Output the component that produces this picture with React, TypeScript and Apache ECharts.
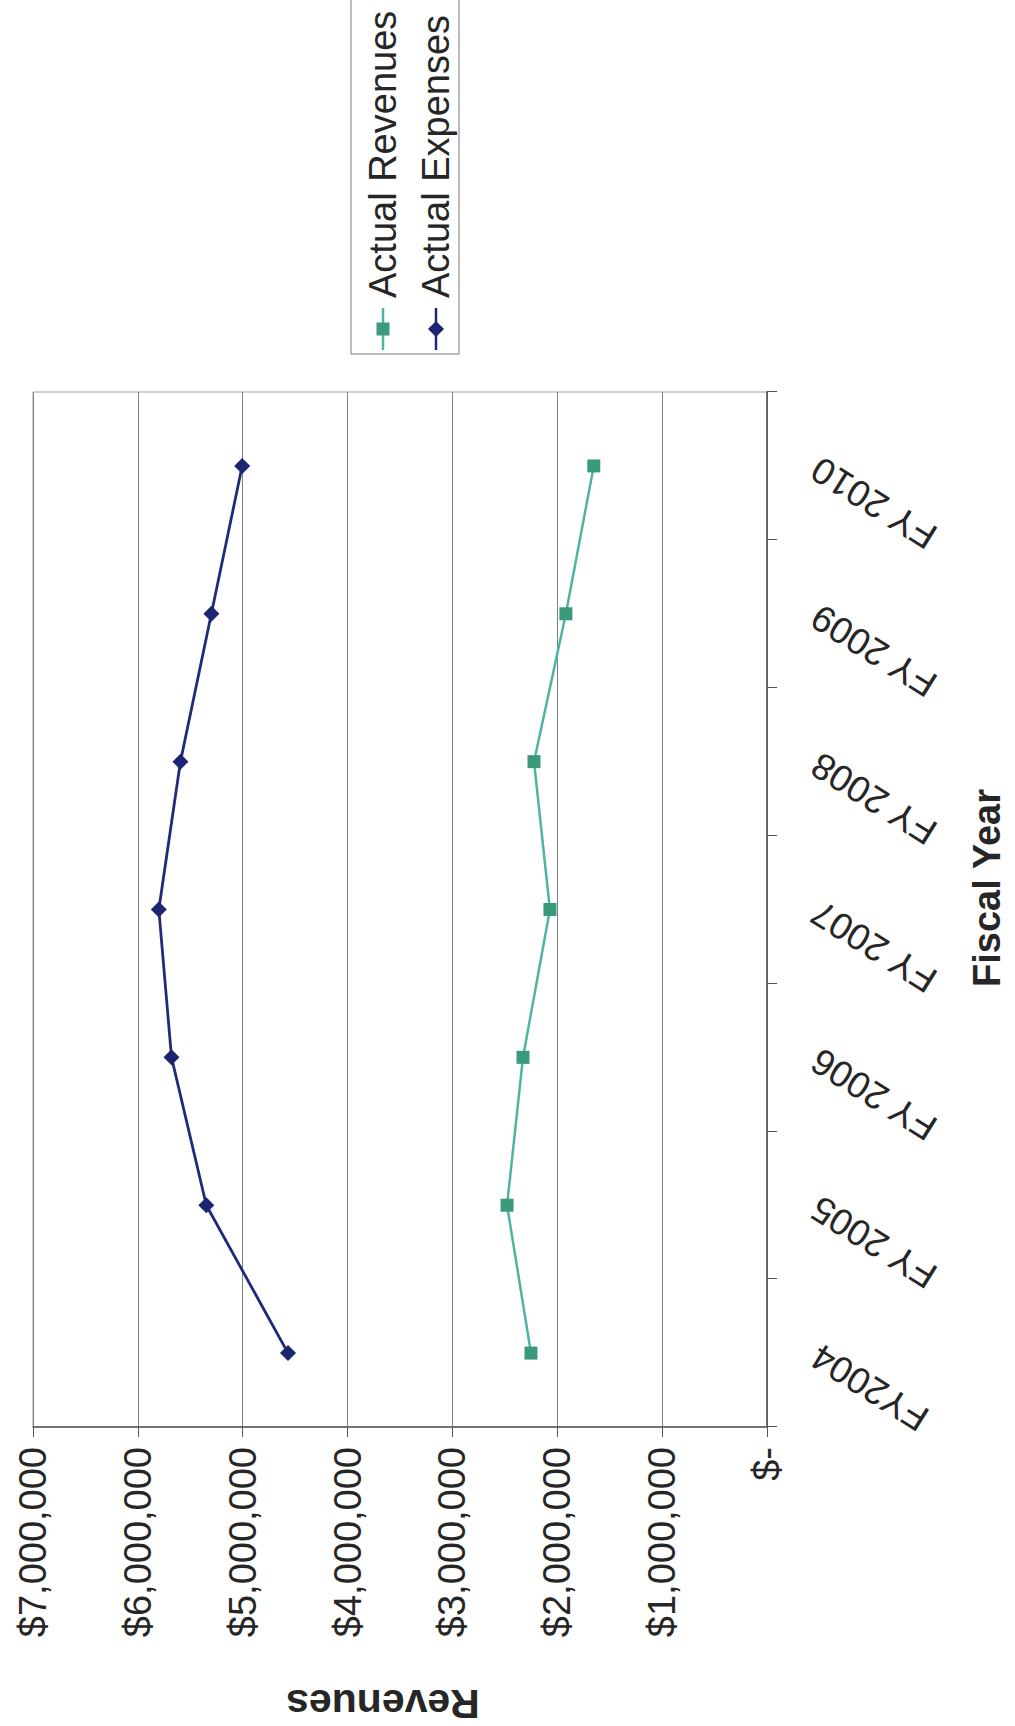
import React, { useEffect, useRef } from "react";
import * as echarts from "echarts";

// Fiscal-year revenue vs. expense trend (chart laid out landscape, shown turned a quarter-turn)
const categories = ["FY2004", "FY 2005", "FY 2006", "FY 2007", "FY 2008", "FY 2009", "FY 2010"];
const actualRevenues = [2251000, 2479000, 2327000, 2070000, 2222000, 1918000, 1652000];
const actualExpenses = [4568000, 5347000, 5679000, 5800000, 5594000, 5299000, 5005000];
const valueTicks = [0, 1000000, 2000000, 3000000, 4000000, 5000000, 6000000, 7000000];

const CHART_W = 1726;
const CHART_H = 1015;
const FONT = "'Liberation Sans', Arial, sans-serif";

const TEXT = "#262626";
const REV_LINE = "#4fb3a3";
const REV_MARK = "#3a9a7e";
const EXP_LINE = "#1f2a7a";
const EXP_MARK = "#1b2570";

function money(v: number): string {
  if (v === 0) return "$-";
  return "$" + v.toLocaleString("en-US");
}

export default function App() {
  const ref = useRef<HTMLDivElement>(null);

  useEffect(() => {
    if (!ref.current) return;
    const chart = echarts.init(ref.current, undefined, { renderer: "svg" });

    const legendX = 1372;
    const legendY = 351;
    const rowRev = 383;
    const rowExp = 436;

    chart.setOption({
      animation: false,
      backgroundColor: "#ffffff",
      grid: {
        left: 299,
        right: 392,
        top: 33,
        bottom: 248,
        show: true,
        borderColor: "#a0a0a0",
        borderWidth: 1,
        backgroundColor: "#ffffff",
      },
      xAxis: {
        type: "category",
        data: categories,
        boundaryGap: true,
        axisLine: { show: true, lineStyle: { color: "#555555", width: 1.5 } },
        axisTick: { show: true, length: 10, interval: 0, lineStyle: { color: "#555555" } },
        axisLabel: {
          interval: 0,
          rotate: 58,
          margin: 48,
          fontFamily: FONT,
          fontSize: 37,
          color: TEXT,
        },
        splitLine: { show: false },
      },
      yAxis: {
        type: "value",
        min: valueTicks[0],
        max: valueTicks[valueTicks.length - 1],
        interval: 1000000,
        axisLine: { show: true, lineStyle: { color: "#555555", width: 1.5 } },
        axisTick: { show: true, length: 10, lineStyle: { color: "#555555" } },
        axisLabel: {
          margin: 20,
          fontFamily: FONT,
          fontSize: 38,
          color: TEXT,
          formatter: (v: number) => money(v),
        },
        splitLine: { show: true, lineStyle: { color: "#7e7e7e", width: 1 } },
      },
      series: [
        {
          name: "Actual Revenues",
          type: "line",
          data: actualRevenues,
          symbol: "rect",
          symbolSize: 13,
          lineStyle: { color: REV_LINE, width: 2.5 },
          itemStyle: { color: REV_MARK },
          z: 3,
        },
        {
          name: "Actual Expenses",
          type: "line",
          data: actualExpenses,
          symbol: "diamond",
          symbolSize: 16,
          lineStyle: { color: EXP_LINE, width: 2.8 },
          itemStyle: { color: EXP_MARK },
          z: 3,
        },
      ],
      graphic: [
        // axis titles
        {
          type: "text",
          x: 22,
          y: 383,
          rotation: Math.PI / 2,
          style: {
            text: "Revenues",
            fontFamily: FONT,
            fontWeight: "bold",
            fontSize: 41,
            fill: TEXT,
            align: "center",
            verticalAlign: "middle",
          },
        },
        {
          type: "text",
          x: 838,
          y: 987,
          style: {
            text: "Fiscal Year",
            fontFamily: FONT,
            fontWeight: "bold",
            fontSize: 38,
            fill: TEXT,
            align: "center",
            verticalAlign: "middle",
          },
        },
        // legend box
        {
          type: "rect",
          shape: { x: legendX, y: legendY, width: 400, height: 108 },
          style: { fill: "#ffffff", stroke: "#777777", lineWidth: 1 },
          z: 10,
        },
        {
          type: "line",
          shape: { x1: legendX + 4, y1: rowRev, x2: legendX + 46, y2: rowRev },
          style: { stroke: REV_LINE, lineWidth: 2.5 },
          z: 11,
        },
        {
          type: "rect",
          shape: { x: legendX + 25 - 6.5, y: rowRev - 6.5, width: 13, height: 13 },
          style: { fill: REV_MARK },
          z: 12,
        },
        {
          type: "text",
          x: legendX + 56,
          y: rowRev,
          style: {
            text: "Actual Revenues",
            fontFamily: FONT,
            fontSize: 38,
            fill: TEXT,
            align: "left",
            verticalAlign: "middle",
          },
          z: 12,
        },
        {
          type: "line",
          shape: { x1: legendX + 4, y1: rowExp, x2: legendX + 46, y2: rowExp },
          style: { stroke: EXP_LINE, lineWidth: 2.5 },
          z: 11,
        },
        {
          type: "polygon",
          shape: {
            points: [
              [legendX + 25, rowExp - 8],
              [legendX + 33, rowExp],
              [legendX + 25, rowExp + 8],
              [legendX + 17, rowExp],
            ],
          },
          style: { fill: EXP_MARK },
          z: 12,
        },
        {
          type: "text",
          x: legendX + 56,
          y: rowExp,
          style: {
            text: "Actual Expenses",
            fontFamily: FONT,
            fontSize: 38,
            fill: TEXT,
            align: "left",
            verticalAlign: "middle",
          },
          z: 12,
        },
      ],
    });

    return () => chart.dispose();
  }, []);

  return (
    <div
      style={{
        position: "absolute",
        left: 0,
        top: 0,
        width: 1015,
        height: 1726,
        overflow: "hidden",
        background: "#ffffff",
      }}
    >
      <div
        style={{
          position: "absolute",
          left: 0,
          top: 0,
          width: CHART_W,
          height: CHART_H,
          transformOrigin: "0 0",
          transform: `translate(0px, ${CHART_W}px) rotate(-90deg)`,
        }}
      >
        <div ref={ref} style={{ width: CHART_W, height: CHART_H }} />
      </div>
    </div>
  );
}
